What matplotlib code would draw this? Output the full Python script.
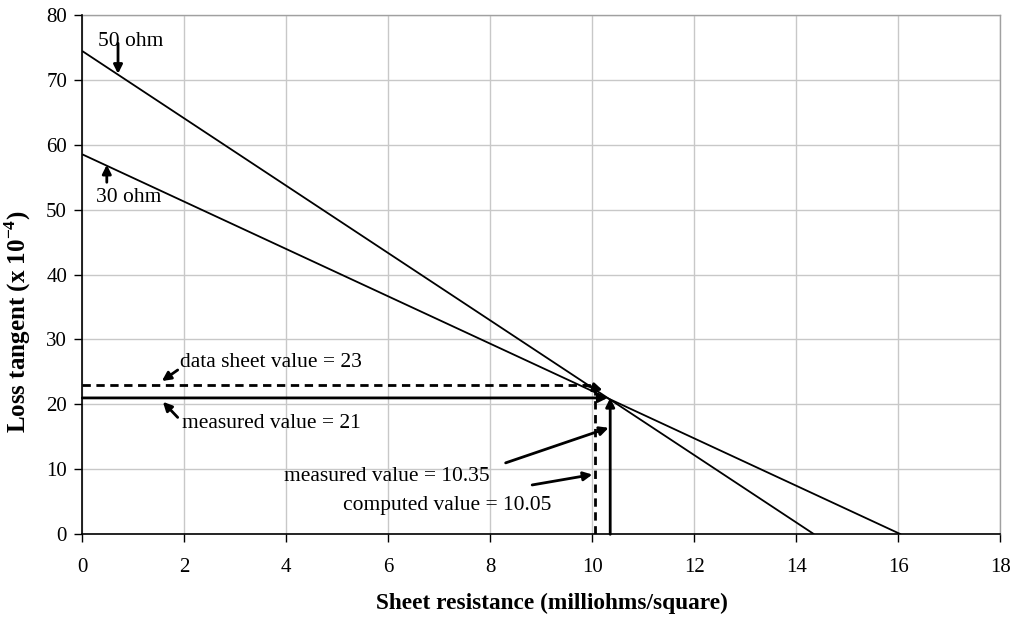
import matplotlib
matplotlib.use("Agg")
import matplotlib.pyplot as plt

plt.rcParams['font.family'] = ['Liberation Serif', 'DejaVu Serif']
plt.rcParams['mathtext.fontset'] = 'custom'
plt.rcParams['mathtext.rm'] = 'Liberation Serif'
plt.rcParams['mathtext.bf'] = 'Liberation Serif:bold'

# Loss tangent vs. sheet resistance for two line impedances
x_50ohm = [0, 14.35]
y_50ohm = [74.4, 0]
x_30ohm = [0, 16.05]
y_30ohm = [58.5, 0]

datasheet_loss = 23
measured_loss = 21
measured_rs = 10.35
computed_rs = 10.05

x_ticks = [0, 2, 4, 6, 8, 10, 12, 14, 16, 18]
y_ticks = [0, 10, 20, 30, 40, 50, 60, 70, 80]

FS = 15.5

fig = plt.figure(figsize=(10.15, 6.18), dpi=100)
ax = fig.add_axes([0.0811, 0.1354, 0.9045, 0.8408])

ax.set_xlim(0, 18)
ax.set_ylim(0, 80)
ax.set_xticks(x_ticks)
ax.set_yticks(y_ticks)
ax.grid(True, color='#c8c8c8', linewidth=1.0)
ax.set_axisbelow(True)

for side in ('top', 'right'):
    ax.spines[side].set_color('#a0a0a0')
    ax.spines[side].set_linewidth(1.0)
for side in ('left', 'bottom'):
    ax.spines[side].set_color('black')
    ax.spines[side].set_linewidth(1.2)
    ax.spines[side].set_zorder(5)

ax.tick_params(axis='both', direction='out', length=6, width=1.0,
               labelsize=15, color='black')
ax.tick_params(axis='x', pad=11)
ax.tick_params(axis='y', pad=5)

# Impedance lines
ax.plot(x_50ohm, y_50ohm, color='black', linewidth=1.3, solid_capstyle='butt')
ax.plot(x_30ohm, y_30ohm, color='black', linewidth=1.3, solid_capstyle='butt')

arrow = dict(arrowstyle='-|>', color='black', lw=2.0, mutation_scale=13,
             shrinkA=0, shrinkB=0)

# Data-sheet reading (dashed)
ax.plot([0, computed_rs], [datasheet_loss, datasheet_loss], color='black',
        linewidth=2.0, linestyle=(0, (3, 2)))
ax.plot([computed_rs, computed_rs], [0, datasheet_loss], color='black',
        linewidth=2.0, linestyle=(0, (3, 2)))
ax.annotate('', xy=(10.2, 22.2), xytext=(9.85, datasheet_loss),
            arrowprops=arrow)

# Measured reading (solid)
ax.annotate('', xy=(measured_rs - 0.05, measured_loss), xytext=(0, measured_loss),
            arrowprops=arrow)
ax.annotate('', xy=(measured_rs, measured_loss), xytext=(measured_rs, 0),
            arrowprops=arrow)

# Labels
ax.text(0.3, 75.8, '50 ohm', fontsize=FS, ha='left', va='center')
ax.annotate('', xy=(0.7, 70.9), xytext=(0.7, 75.6), arrowprops=arrow)
ax.text(0.27, 51.8, '30 ohm', fontsize=FS, ha='left', va='center')
ax.annotate('', xy=(0.48, 56.9), xytext=(0.48, 54.2), arrowprops=arrow)

ax.text(1.92, 26.4, 'data sheet value = %d' % datasheet_loss, fontsize=FS,
        ha='left', va='center')
ax.annotate('', xy=(1.56, 23.6), xytext=(1.87, 25.3), arrowprops=arrow)

ax.text(1.95, 17.1, 'measured value = %d' % measured_loss, fontsize=FS,
        ha='left', va='center')
ax.annotate('', xy=(1.58, 20.4), xytext=(1.87, 18.0), arrowprops=arrow)

ax.text(7.98, 8.9, 'measured value = %.2f' % measured_rs, fontsize=FS,
        ha='right', va='center')
ax.annotate('', xy=(measured_rs - 0.03, 16.4), xytext=(8.3, 11.0), arrowprops=arrow)

ax.text(9.2, 4.5, 'computed value = %.2f' % computed_rs, fontsize=FS,
        ha='right', va='center')
ax.annotate('', xy=(computed_rs - 0.05, 9.2), xytext=(8.82, 7.6), arrowprops=arrow)

ax.set_xlabel('Sheet resistance (milliohms/square)', fontsize=16.8,
              fontweight='bold')
ax.xaxis.set_label_coords(0.512, -0.113)
ax.set_ylabel(r'Loss tangent (x 10$^{\mathbf{-4}}$)', fontsize=18,
              fontweight='bold')
ax.yaxis.set_label_coords(-0.0537, 0.41)

fig.savefig('out.png', dpi=100)
